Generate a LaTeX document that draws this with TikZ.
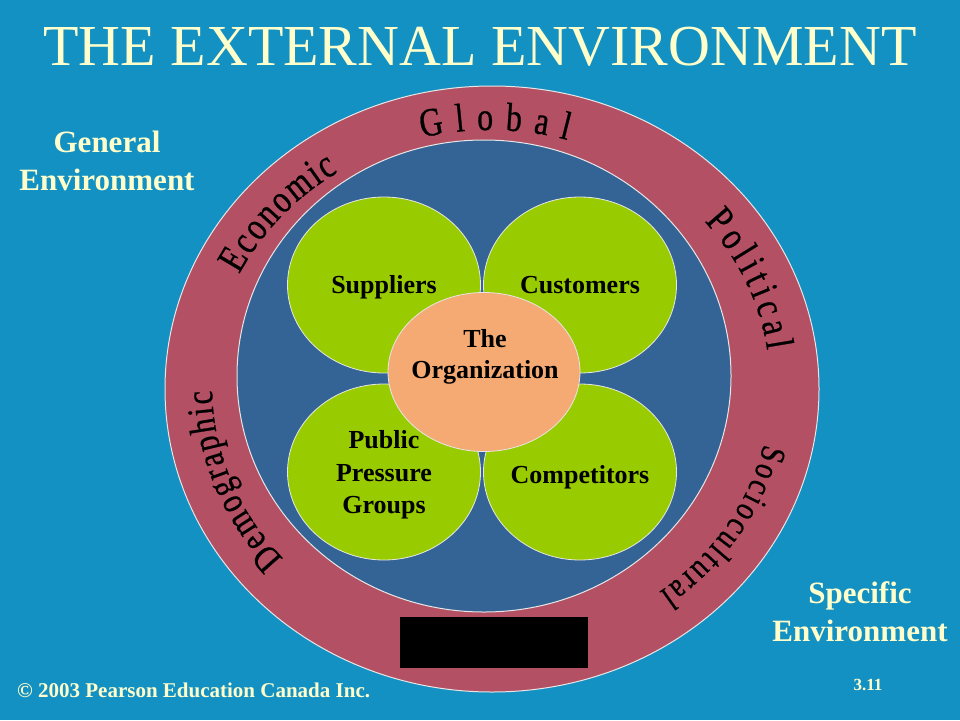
\documentclass[tikz,border=0pt]{standalone}
\usepackage{fontspec}
\setmainfont{Liberation Serif}
\newfontfamily\arcfont[FakeStretch=0.8,FakeBold=0.6]{Liberation Serif}
\usetikzlibrary{shapes.geometric,decorations.text}
\definecolor{bgblue}{RGB}{20,145,195}
\definecolor{ringred}{RGB}{180,80,100}
\definecolor{innerblue}{RGB}{52,100,150}
\definecolor{leafgreen}{RGB}{153,204,0}
\definecolor{orgorange}{RGB}{245,170,115}
\definecolor{cream}{RGB}{255,255,204}
\definecolor{edgewhite}{RGB}{230,230,230}
\begin{document}
\begin{tikzpicture}[x=1pt,y=-1pt,
  leaf/.style={ellipse, fill=leafgreen, draw=edgewhite, line width=0.8pt,
    minimum width=193pt, minimum height=176pt, inner sep=0pt},
  org/.style={ellipse, fill=orgorange, draw=edgewhite, line width=0.8pt,
    minimum width=192pt, minimum height=159pt, inner sep=0pt},
  lbl/.style={font=\bfseries\fontsize{26}{32}\selectfont, text=black, inner sep=0pt, anchor=base},
  side/.style={font=\bfseries\fontsize{31}{38}\selectfont, text=cream, inner sep=0pt, anchor=base},
  arcword/.style 2 args={decorate, decoration={text along path, text align={fit to path},
    text={|\arcfont\fontsize{#1}{#1}\selectfont|#2}}}
]
\useasboundingbox (0,0) rectangle (960,720);
\fill[bgblue] (0,0) rectangle (960,720);

% rings
\filldraw[fill=ringred, draw=edgewhite, line width=1pt] (492,389) ellipse [x radius=327, y radius=303];
\filldraw[fill=innerblue, draw=edgewhite, line width=1pt] (484,376) ellipse [x radius=247, y radius=236];

% ring words (clockwise, tops outward)
\path[arcword={40}{Global}] plot[domain=-104:-74, samples=60, variable=\t] ({490+281*cos(\t)},{386+256*sin(\t)});
\path[arcword={40}{Economic}] plot[domain=-154:-123, samples=60, variable=\t] ({490+279*cos(\t)},{386+255*sin(\t)});
\path[arcword={40}{Political}] plot[domain=-40:-8, samples=60, variable=\t] ({490+280*cos(\t)},{386+256*sin(\t)});
\path[arcword={35}{Sociocultural}] plot[domain=13:53, samples=80, variable=\t] ({490+281*cos(\t)},{386+258*sin(\t)});
\path[arcword={38}{Demographic}] plot[domain=138:179, samples=80, variable=\t] ({490+278*cos(\t)},{386+258*sin(\t)});

% black box
\fill[black] (400,617) rectangle (588,668);

% leaves
\node[leaf] (sup) at (384,285) {};
\node[leaf] (cus) at (580,285) {};
\node[leaf] (pub) at (384,472) {};
\node[leaf] (com) at (580,472) {};
\node[org] (orgn) at (484,372) {};

\node[lbl] (tsup) at (384,293) {Suppliers};
\node[lbl] (tcus) at (580,293) {Customers};
\node[lbl] (tpub1) at (384,448) {Public};
\node[lbl] (tpub2) at (384,481) {Pressure};
\node[lbl] (tpub3) at (384,513) {Groups};
\node[lbl] (tcom) at (580,483) {Competitors};
\node[lbl] (torg1) at (485,347) {The};
\node[lbl] (torg2) at (485,378) {Organization};

% title and side texts
\node[font=\fontsize{58}{58}\selectfont, text=cream, inner sep=0pt, anchor=base] (title) at (480,65) {THE EXTERNAL ENVIRONMENT};
\node[side] (gen1) at (107,152) {General};
\node[side] (gen2) at (107,190) {Environment};
\node[side] (spe1) at (860,603) {Specific};
\node[side] (spe2) at (860,641) {Environment};
\node[font=\bfseries\fontsize{21}{24}\selectfont, text=cream, inner sep=0pt, anchor=base west] (copy) at (17,697) {© 2003 Pearson Education Canada Inc.};
\node[font=\bfseries\fontsize{17}{20}\selectfont, text=cream, inner sep=0pt, anchor=base] (num) at (868,690) {3.11};
\end{tikzpicture}
\end{document}
